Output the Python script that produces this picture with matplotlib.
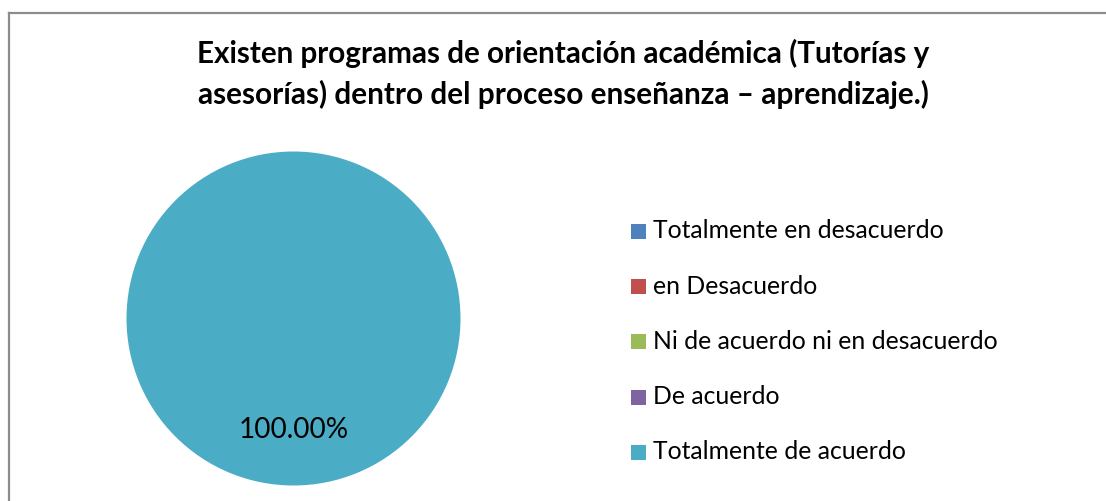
import matplotlib
matplotlib.use("Agg")
import matplotlib.pyplot as plt
from matplotlib.patches import Rectangle
from matplotlib.lines import Line2D

W, H = 1106, 501
DPI = 100

title_lines = ["Existen programas de orientación académica (Tutorías y",
               "asesorías) dentro del proceso enseñanza – aprendizaje.)"]
categories = ["Totalmente en desacuerdo", "en Desacuerdo",
              "Ni de acuerdo ni en desacuerdo", "De acuerdo",
              "Totalmente de acuerdo"]
values = [0.0, 0.0, 0.0, 0.0, 100.0]
colors = ["#4F81BD", "#C0504D", "#9BBB59", "#8064A2", "#4BACC6"]

FONT = ["Lato", "DejaVu Sans"]
plt.rcParams['font.family'] = FONT

fig = plt.figure(figsize=(W / DPI, H / DPI), dpi=DPI)
fig.patch.set_facecolor("white")
renderer = fig.canvas.get_renderer()


def fx(x):
    return x / W


def fy(y):
    return 1 - y / H


def fit_text(x, y, s, target_w, fs0=18, **kw):
    t = fig.text(fx(x), fy(y), s, fontsize=fs0, **kw)
    w = t.get_window_extent(renderer).width
    t.set_fontsize(fs0 * target_w / w)
    return t


# border (top and left edges visible)
fig.add_artist(Line2D([fx(9), fx(9)], [fy(13), 0], color="#8c8c8c", lw=1.6))
fig.add_artist(Line2D([fx(9), 1], [fy(13), fy(13)], color="#8c8c8c", lw=1.6))

# title
fit_text(563, 63, title_lines[0], 735, fontweight="bold", ha="center", va="baseline")
fit_text(563, 104, title_lines[1], 733, fontweight="bold", ha="center", va="baseline")

# pie
cx, cy, r = 293.5, 318.5, 167
ax = fig.add_axes([fx(cx - r), 1 - (cy + r) / H, 2 * r / W, 2 * r / H])


def pct(p):
    return "{:.2f}%".format(p) if p > 0 else ""


wedges, texts, autotexts = ax.pie(values, colors=colors, startangle=90,
                                  autopct=pct, pctdistance=0.67,
                                  wedgeprops=dict(linewidth=0))
for at in autotexts:
    if at.get_text():
        at.set_fontsize(18)
        w = at.get_window_extent(renderer).width
        at.set_fontsize(18 * 110 / w)
        at.set_color("black")
ax.set_xlim(-1, 1)
ax.set_ylim(-1, 1)
ax.set_aspect("equal")
ax.axis("off")

# legend
base0, step = 238.5, 55.2
fs_leg = None
for i, (lab, col) in enumerate(zip(categories, colors)):
    b = base0 + i * step
    fig.add_artist(Rectangle((fx(631), fy(b + 0.5)), 15 / W, 15 / H,
                             transform=fig.transFigure, facecolor=col,
                             edgecolor="none"))
    if fs_leg is None:
        t = fit_text(653, b, lab, 289, ha="left", va="baseline")
        fs_leg = t.get_fontsize()
    else:
        fig.text(fx(653), fy(b), lab, fontsize=fs_leg, ha="left", va="baseline")

fig.savefig("out.png", dpi=DPI, facecolor="white")
